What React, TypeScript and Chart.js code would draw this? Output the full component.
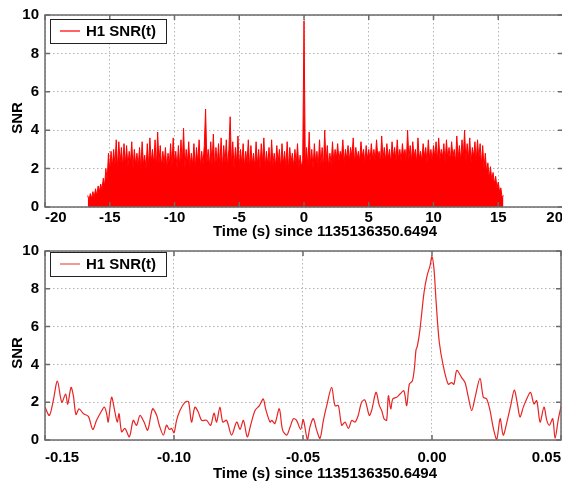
import React, { useEffect, useRef } from "react";
import { Chart, registerables } from "chart.js";

Chart.register(...registerables);

// ---------------- data ----------------
const legendLabel = "H1 SNR(t)";
const xTitle = "Time (s) since 1135136350.6494";
const yTitle = "SNR";

const yTicks = [0, 2, 4, 6, 8, 10];
const topXTicks = [-20, -15, -10, -5, 0, 5, 10, 15, 20];
const bottomXTicks = [-0.15, -0.1, -0.05, 0, 0.05];

// top panel: SNR time series, one value every 0.1 s starting at -16.7 s
const topStart = -16.7;
const topStep = 0.1;
const topSnr = [
  0.6, 0.35, 0.7, 0.45, 0.8, 0.5, 0.95, 0.6, 1.1, 0.8,
  1.2, 0.9, 1.5, 1.1, 2.0, 1.4, 2.8, 1.9, 2.9, 2.1,
  3.0, 2.2, 3.5, 2.0, 3.4, 2.3, 3.1, 2.1, 3.3, 2.2,
  3.2, 2.1, 2.9, 2.3, 3.4, 2.0, 3.0, 2.2, 2.8, 2.1,
  3.1, 2.0, 3.4, 2.2, 2.7, 2.0, 3.3, 2.1, 3.6, 2.3,
  3.0, 2.2, 3.5, 2.0, 3.9, 2.3, 3.2, 2.1, 2.9, 2.2,
  3.1, 2.0, 2.8, 2.2, 3.3, 2.1, 3.6, 2.3, 2.9, 2.0,
  3.2, 2.1, 3.5, 2.2, 4.1, 2.0, 3.0, 2.3, 3.4, 2.1,
  2.8, 2.2, 3.3, 2.0, 3.1, 2.3, 3.5, 2.1, 2.9, 2.2,
  3.2, 5.1, 2.3, 3.0, 2.1, 3.4, 2.2, 3.8, 2.0, 3.1,
  2.2, 3.3, 2.1, 3.6, 2.0, 3.2, 2.3, 3.5, 2.1, 3.0,
  4.7, 2.2, 3.4, 2.0, 3.1, 2.3, 3.7, 2.1, 3.0, 2.2,
  3.3, 2.1, 2.9, 2.3, 3.5, 2.0, 3.2, 2.2, 2.8, 2.1,
  3.4, 2.2, 3.0, 2.0, 3.3, 2.3, 3.6, 2.1, 2.9, 2.2,
  3.1, 2.0, 3.5, 2.2, 2.8, 2.1, 3.2, 2.3, 3.0, 2.0,
  3.3, 2.2, 2.9, 2.1, 3.4, 2.0, 3.1, 2.3, 2.8, 2.1,
  3.0, 2.2, 3.3, 2.0, 2.7, 2.1, 2.4, 9.7, 2.3, 3.1,
  2.1, 3.9, 2.2, 3.0, 2.0, 3.3, 2.3, 2.9, 2.1, 3.5,
  2.2, 3.1, 2.0, 4.0, 2.3, 3.2, 2.1, 2.8, 2.2, 3.4,
  2.3, 3.0, 2.5, 3.3, 2.4, 2.9, 2.6, 3.5, 2.3, 3.0,
  2.5, 3.2, 2.4, 3.1, 2.6, 3.6, 2.3, 3.1, 2.5, 2.9,
  2.4, 3.4, 2.6, 3.0, 2.3, 3.2, 2.5, 3.0, 2.4, 3.3,
  2.5, 3.0, 2.4, 3.5, 2.6, 2.9, 2.3, 3.7, 2.5, 3.1,
  2.4, 3.3, 2.5, 3.0, 2.3, 3.4, 2.6, 3.1, 2.4, 3.5,
  2.5, 3.0, 2.4, 3.3, 2.6, 3.0, 2.3, 4.0, 2.5, 3.2,
  2.4, 3.4, 2.6, 3.0, 2.3, 3.6, 2.5, 2.9, 2.4, 3.3,
  2.6, 3.1, 2.3, 3.5, 2.5, 3.0, 2.4, 3.2, 2.6, 3.4,
  2.4, 3.6, 2.5, 3.0, 2.6, 3.3, 2.3, 3.5, 2.5, 3.1,
  2.4, 3.4, 2.6, 3.0, 2.3, 3.7, 2.5, 3.2, 2.4, 3.5,
  2.6, 4.0, 2.4, 3.3, 2.5, 3.6, 2.3, 3.1, 2.6, 3.4,
  2.4, 3.5, 2.5, 3.3, 2.2, 3.2, 2.0, 2.8, 1.8, 2.3,
  1.5, 2.1, 1.4, 1.8, 1.2, 1.6, 1.0, 1.3, 0.8, 1.0,
  0.5, 0.6,
];

// bottom panel: zoom around the peak
const bottomTimes = [
  -0.15, -0.1483, -0.1468, -0.1452, -0.1435, -0.142, -0.1412, -0.1399, -0.139, -0.138,
  -0.1368, -0.1351, -0.1332, -0.1315, -0.13, -0.1283, -0.127, -0.1261, -0.1255, -0.1242,
  -0.1229, -0.122, -0.1213, -0.1203, -0.119, -0.1173, -0.1158, -0.1145, -0.1132, -0.1116,
  -0.1102, -0.1083, -0.1067, -0.1057, -0.1041, -0.1029, -0.1018, -0.1009, -0.1, -0.099,
  -0.0977, -0.0957, -0.0944, -0.0932, -0.0919, -0.0906, -0.0893, -0.0874, -0.0858, -0.0845,
  -0.0835, -0.0822, -0.0811, -0.0796, -0.0777, -0.0757, -0.0744, -0.0731, -0.0716, -0.0703,
  -0.0686, -0.0669, -0.0654, -0.0645, -0.0628, -0.0621, -0.0609, -0.0592, -0.0579, -0.0563,
  -0.055, -0.0537, -0.0525, -0.0509, -0.0499, -0.0483, -0.0473, -0.046, -0.0447, -0.0434,
  -0.0421, -0.0408, -0.0389, -0.0376, -0.0363, -0.035, -0.0337, -0.0324, -0.0311, -0.0298,
  -0.0286, -0.0273, -0.026, -0.0243, -0.0234, -0.0217, -0.0204, -0.0195, -0.0186, -0.0176,
  -0.0169, -0.016, -0.0152, -0.0137, -0.0124, -0.0109, -0.0098, -0.0088, -0.0076, -0.0068,
  -0.0062, -0.0057, -0.0047, -0.0031, -0.0019, -0.0008, 0.0, 0.0008, 0.0016, 0.0028,
  0.0044, 0.0063, 0.0076, 0.0085, 0.0096, 0.0115, 0.0128, 0.0141, 0.0154, 0.0167,
  0.0186, 0.0199, 0.0212, 0.0225, 0.0238, 0.0251, 0.0264, 0.0276, 0.0289, 0.0305,
  0.0319, 0.0331, 0.0341, 0.0354, 0.0367, 0.0382, 0.0395, 0.0406, 0.0419, 0.0434,
  0.0445, 0.0455, 0.0468, 0.0477, 0.049, 0.0504,
];
const bottomSnr = [
  1.74, 1.3, 2.08, 3.12, 2.0, 2.43, 1.9, 2.78, 2.34, 1.35,
  1.65, 1.39, 1.25, 0.56, 1.04, 1.48, 1.74, 1.39, 0.95, 2.26,
  1.48, 0.95, 1.39, 0.43, 0.61, 0.17, 1.04, 0.78, 1.3, 0.95,
  0.52, 1.65, 1.3, 0.78, 0.26, 0.78, 0.56, 0.61, 0.38, 1.04,
  1.56, 2.0, 2.03, 0.95, 1.74, 1.48, 1.04, 1.04, 0.78, 1.42,
  0.95, 1.74, 0.95, 1.04, 0.26, 0.95, 0.56, 1.04, 0.17, 0.78,
  1.56, 1.82, 2.17, 1.65, 0.95, 1.04, 0.87, 1.65, 0.52, 0.26,
  0.69, 1.13, 1.04, 0.56, 1.08, 0.03, 0.69, 1.13, 0.52, 0.09,
  1.04, 1.82, 2.78, 1.82, 1.82, 0.78, 0.95, 0.61, 1.04, 0.95,
  1.3, 2.0, 2.12, 1.3, 1.56, 2.52, 1.82, 1.56, 1.13, 1.04,
  2.34, 1.65, 2.17, 2.26, 2.43, 2.6, 1.82, 2.95, 3.13, 3.82,
  4.77, 4.95, 5.8, 7.8, 8.7, 9.2, 9.7, 9.0, 7.3, 5.2,
  3.9, 2.95, 3.04, 2.95, 3.68, 3.3, 3.04, 2.26, 1.56, 2.26,
  3.26, 2.26, 2.17, 1.56, 0.61, 0.03, 1.13, 0.26, 0.87, 1.82,
  2.64, 1.91, 1.22, 1.74, 2.17, 2.52, 1.91, 2.08, 0.95, 1.74,
  1.04, 0.78, 1.13, 0.09, 1.13, 2.0,
];

// ---------------- styling ----------------
const FONT = '"Liberation Sans", Arial, Helvetica, sans-serif';
const FRAME = "#6b6b6b";
const GRID = "#b4b4b4";

type PanelCfg = {
  legendTop: number;
  xTitleY: number;
  xTitleX: number;
  yTitleY: number;
  lineColor: string;
  lineWidth: number;
};

function overlayPlugin(cfg: PanelCfg) {
  return {
    id: "overlay",
    afterDraw(chart: any) {
      const { ctx, chartArea: a, scales } = chart;
      const xs = scales.x;
      const ys = scales.y;
      ctx.save();
      // frame + inward ticks
      ctx.strokeStyle = FRAME;
      ctx.lineWidth = 1.5;
      ctx.beginPath();
      xs.ticks.forEach((t: any) => {
        const px = xs.getPixelForValue(t.value);
        ctx.moveTo(px, a.bottom);
        ctx.lineTo(px, a.bottom - 5);
        ctx.moveTo(px, a.top);
        ctx.lineTo(px, a.top + 5);
      });
      ys.ticks.forEach((t: any) => {
        const py = ys.getPixelForValue(t.value);
        ctx.moveTo(a.left, py);
        ctx.lineTo(a.left + 5, py);
        ctx.moveTo(a.right, py);
        ctx.lineTo(a.right - 5, py);
      });
      ctx.stroke();
      ctx.strokeRect(a.left, a.top, a.right - a.left, a.bottom - a.top);

      // legend box
      const lx = 50.5;
      const ly = cfg.legendTop + 0.5;
      ctx.fillStyle = "#ffffff";
      ctx.fillRect(lx, ly, 116, 24);
      ctx.strokeStyle = "#222";
      ctx.lineWidth = 1;
      ctx.strokeRect(lx, ly, 116, 24);
      ctx.beginPath();
      ctx.strokeStyle = cfg.lineColor;
      ctx.lineWidth = cfg.lineWidth;
      ctx.moveTo(60, ly + 11.5);
      ctx.lineTo(80, ly + 11.5);
      ctx.stroke();
      ctx.fillStyle = "#000";
      ctx.font = `bold 15px ${FONT}`;
      ctx.textAlign = "left";
      ctx.textBaseline = "middle";
      ctx.fillText(legendLabel, 86, ly + 12.5);

      // axis titles
      ctx.textAlign = "center";
      ctx.fillText(xTitle, cfg.xTitleX, cfg.xTitleY);
      ctx.translate(18, cfg.yTitleY);
      ctx.rotate(-Math.PI / 2);
      ctx.fillText(yTitle, 0, 0);
      ctx.restore();
    },
  };
}

function baseOptions(p: {
  xMin: number;
  xMax: number;
  xTickValues: number[];
  fmt: (v: number) => string;
  padTop: number;
  padRight: number;
  xAxisH: number;
  xLabelPad: number;
}) {
  const tickFont = { family: FONT, size: 15, weight: "bold" as const };
  return {
    responsive: false,
    animation: false as const,
    events: [],
    layout: { padding: { top: p.padTop, right: p.padRight, left: 0, bottom: 0 } },
    plugins: { legend: { display: false }, tooltip: { enabled: false } },
    scales: {
      x: {
        type: "linear" as const,
        min: p.xMin,
        max: p.xMax,
        afterBuildTicks: (scale: any) => {
          scale.ticks = p.xTickValues.map((v) => ({ value: v }));
        },
        afterFit: (scale: any) => {
          scale.height = p.xAxisH;
        },
        ticks: {
          autoSkip: false,
          maxRotation: 0,
          align: "inner" as const,
          padding: p.xLabelPad,
          color: "#000",
          font: tickFont,
          callback: (v: any) => p.fmt(Number(v)),
        },
        grid: { color: GRID, lineWidth: 1, drawTicks: false },
        border: { display: false, dash: [1.5, 2.5] },
      },
      y: {
        type: "linear" as const,
        min: 0,
        max: 10,
        afterBuildTicks: (scale: any) => {
          scale.ticks = yTicks.map((v) => ({ value: v }));
        },
        afterFit: (scale: any) => {
          scale.width = 45;
        },
        ticks: {
          padding: 6,
          color: "#000",
          font: tickFont,
          callback: (v: any) => String(v),
        },
        grid: { color: GRID, lineWidth: 1, drawTicks: false },
        border: { display: false, dash: [1.5, 2.5] },
      },
    },
  };
}

export default function App() {
  const topRef = useRef<HTMLCanvasElement>(null);
  const botRef = useRef<HTMLCanvasElement>(null);

  useEffect(() => {
    const topPoints = topSnr.map((v, i) => ({
      x: Math.round((topStart + i * topStep) * 100) / 100,
      y: v,
    }));
    const botPoints = bottomSnr.map((v, i) => ({ x: bottomTimes[i], y: v }));

    const topChart = new Chart(topRef.current as HTMLCanvasElement, {
      type: "line",
      data: {
        datasets: [
          {
            label: legendLabel,
            data: topPoints,
            borderColor: "#ff0000",
            backgroundColor: "#ff0000",
            borderWidth: 1,
            fill: "origin",
            pointRadius: 0,
            tension: 0,
          },
        ],
      },
      options: baseOptions({
        xMin: -20,
        xMax: 20,
        xTickValues: topXTicks,
        fmt: (v) => String(v),
        padTop: 13,
        padRight: 37,
        xAxisH: 38,
        xLabelPad: 2,
      }) as any,
      plugins: [
        overlayPlugin({ legendTop: 19, xTitleY: 232, xTitleX: 325, yTitleY: 118, lineColor: "#ff2020", lineWidth: 1.4 }),
      ],
    });

    const botChart = new Chart(botRef.current as HTMLCanvasElement, {
      type: "line",
      data: {
        datasets: [
          {
            label: legendLabel,
            data: botPoints,
            borderColor: "rgb(232, 36, 36)",
            backgroundColor: "rgb(232, 36, 36)",
            borderWidth: 1.2,
            fill: false,
            pointRadius: 0,
            tension: 0.3,
          },
        ],
      },
      options: baseOptions({
        xMin: -0.15,
        xMax: 0.05,
        xTickValues: bottomXTicks,
        fmt: (v) => (Math.abs(v) < 1e-9 ? "0.00" : v.toFixed(2)),
        padTop: 12,
        padRight: 39,
        xAxisH: 41,
        xLabelPad: 9,
      }) as any,
      plugins: [
        overlayPlugin({ legendTop: 16, xTitleY: 238, xTitleX: 325, yTitleY: 117, lineColor: "rgb(235, 110, 110)", lineWidth: 1.4 }),
      ],
    });

    return () => {
      topChart.destroy();
      botChart.destroy();
    };
  }, []);

  return (
    <div
      style={{
        position: "fixed",
        left: 0,
        top: 0,
        width: 562,
        height: 481,
        overflow: "hidden",
        background: "#ffffff",
      }}
    >
      <canvas
        ref={topRef}
        width={600}
        height={245}
        style={{ position: "absolute", left: 0, top: 0, width: 600, height: 245 }}
      />
      <canvas
        ref={botRef}
        width={600}
        height={245}
        style={{ position: "absolute", left: 0, top: 236, width: 600, height: 245 }}
      />
    </div>
  );
}
